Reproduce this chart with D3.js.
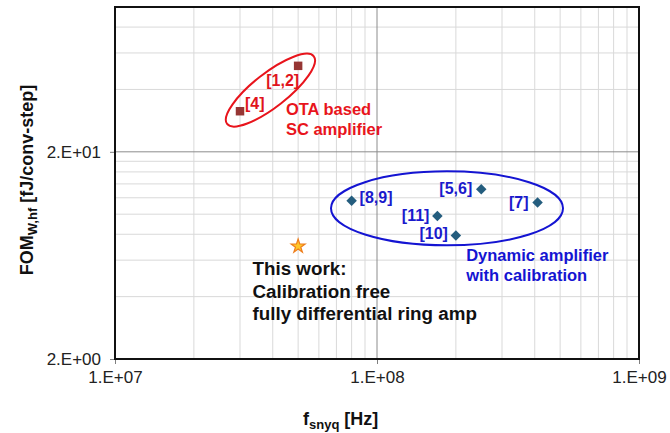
<!DOCTYPE html>
<html>
<head>
<meta charset="utf-8">
<script src="https://cdn.jsdelivr.net/npm/d3@7"></script>
<style>
  body { margin: 0; background: #fff; }
  text { font-family: "Liberation Sans", Arial, sans-serif; }
</style>
</head>
<body>
<div class="chart"></div>
<script>
// published designs: OTA based SC amplifiers
var otaRefs = ["[1,2]", "[4]"];
var otaFreq = [5.0e7, 3.0e7];
var otaFom = [52, 31.4];

// dynamic amplifiers with calibration
var dynRefs = ["[8,9]", "[5,6]", "[7]", "[11]", "[10]"];
var dynFreq = [8.0e7, 2.5e8, 4.1e8, 1.7e8, 2.0e8];
var dynFom = [11.6, 13.2, 11.4, 9.8, 7.9];

// this work
var thisFreq = [5.0e7];
var thisFom = [7.0];

var xTicks = [1e7, 1e8, 1e9];
var yTicks = [2, 20];
var xMinor = [2e7, 3e7, 4e7, 5e7, 6e7, 7e7, 8e7, 9e7, 2e8, 3e8, 4e8, 5e8, 6e8, 7e8, 8e8, 9e8];
var yMinor = [4, 6, 8, 10, 12, 14, 16, 18, 40, 60, 80];

var margin = { top: 7, right: 31, bottom: 74, left: 115 };
var width = 670 - margin.left - margin.right;
var height = 433 - margin.top - margin.bottom;

var svg = d3
  .select(".chart")
  .append("svg")
  .attr("width", width + margin.left + margin.right)
  .attr("height", height + margin.top + margin.bottom)
  .append("g")
  .attr("transform", `translate(${margin.left}, ${margin.top})`);

var xScale = d3.scaleLog().domain([1e7, 1e9]).range([0, width]);
var yScale = d3.scaleLog().domain([2, 100]).range([height, 0]);

function sci(v) {
  var e = Math.floor(Math.log10(v) + 1e-9);
  var m = Math.round(v / Math.pow(10, e));
  return m + ".E" + (e < 0 ? "-" : "+") + String(Math.abs(e)).padStart(2, "0");
}

// grid
svg.append("g").selectAll("line").data(xMinor).join("line")
  .attr("x1", (d) => xScale(d)).attr("x2", (d) => xScale(d))
  .attr("y1", 0).attr("y2", height)
  .attr("stroke", "#d9d9d9").attr("stroke-width", 1);
svg.append("g").selectAll("line").data(yMinor).join("line")
  .attr("y1", (d) => yScale(d)).attr("y2", (d) => yScale(d))
  .attr("x1", 0).attr("x2", width)
  .attr("stroke", "#d9d9d9").attr("stroke-width", 1);
svg.append("g").selectAll("line").data(xTicks.slice(1, -1)).join("line")
  .attr("x1", (d) => xScale(d)).attr("x2", (d) => xScale(d))
  .attr("y1", 0).attr("y2", height)
  .attr("stroke", "#8c8c8c").attr("stroke-width", 1);
svg.append("g").selectAll("line").data(yTicks.slice(1)).join("line")
  .attr("y1", (d) => yScale(d)).attr("y2", (d) => yScale(d))
  .attr("x1", 0).attr("x2", width)
  .attr("stroke", "#8c8c8c").attr("stroke-width", 1);

// axes
var xAxis = svg.append("g")
  .attr("transform", `translate(0, ${height})`)
  .call(d3.axisBottom(xScale).tickValues(xTicks).tickFormat(sci).tickSize(5).tickPadding(7));
var yAxis = svg.append("g")
  .call(d3.axisLeft(yScale).tickValues(yTicks).tickFormat(sci).tickSize(5).tickPadding(9));
[xAxis, yAxis].forEach(function (a) {
  a.select(".domain").remove();
  a.selectAll(".tick line").attr("stroke", "#7f7f7f");
  a.selectAll(".tick text")
    .attr("fill", "#222")
    .style("font-size", "17px")
    .style("font-family", '"Liberation Sans", Arial, sans-serif');
});

svg.append("rect")
  .attr("width", width).attr("height", height)
  .attr("fill", "none").attr("stroke", "#111").attr("stroke-width", 2);

// axis titles
var xt = svg.append("text")
  .attr("x", 188).attr("y", height + 66)
  .attr("font-size", 18).attr("font-weight", "bold").attr("fill", "#111");
xt.append("tspan").text("f");
xt.append("tspan").attr("font-size", 13).attr("dy", 4).text("snyq");
xt.append("tspan").attr("dy", -4).text(" [Hz]");

var yt = svg.append("text")
  .attr("transform", `translate(${-82}, ${height / 2 - 3}) rotate(-90)`)
  .attr("text-anchor", "middle")
  .attr("font-size", 18).attr("font-weight", "bold").attr("fill", "#111");
yt.append("tspan").text("FOM");
yt.append("tspan").attr("font-size", 13).attr("dy", 4).text("W,hf");
yt.append("tspan").attr("dy", -4).text(" [fJ/conv-step]");

// group ellipses (centre in data units)
var ellipses = [
  { cx: 3.92e7, cy: 39.7, rx: 55, ry: 17, angle: -38, color: "#e8141c" },
  { cx: 1.85e8, cy: 10.67, rx: 116, ry: 37, angle: 0, color: "#1414d2" },
];
svg.append("g").selectAll("ellipse").data(ellipses).join("ellipse")
  .attr("transform", (d) => `translate(${xScale(d.cx)}, ${yScale(d.cy)}) rotate(${d.angle})`)
  .attr("rx", (d) => d.rx).attr("ry", (d) => d.ry)
  .attr("fill", "none").attr("stroke", (d) => d.color).attr("stroke-width", 2);

// markers
var ota = otaRefs.map((r, i) => ({ ref: r, f: otaFreq[i], v: otaFom[i] }));
var dyn = dynRefs.map((r, i) => ({ ref: r, f: dynFreq[i], v: dynFom[i] }));
var me = thisFreq.map((f, i) => ({ f: f, v: thisFom[i] }));

svg.append("g").selectAll("path").data(ota).join("path")
  .attr("transform", (d) => `translate(${xScale(d.f)}, ${yScale(d.v)})`)
  .attr("d", d3.symbol(d3.symbolSquare, 72))
  .attr("fill", "#963634");
svg.append("g").selectAll("path").data(dyn).join("path")
  .attr("transform", (d) => `translate(${xScale(d.f)}, ${yScale(d.v)})`)
  .attr("d", d3.symbol(d3.symbolDiamond2, 70))
  .attr("fill", "#245d7e");
svg.append("g").selectAll("path").data(me).join("path")
  .attr("transform", (d) => `translate(${xScale(d.f)}, ${yScale(d.v)})`)
  .attr("d", d3.symbol(d3.symbolStar, 60))
  .attr("fill", "#ffc629").attr("stroke", "#ee7d1c").attr("stroke-width", 1.2);

// reference labels: offset from their marker
var labelPos = {
  "[1,2]": { dx: 1, dy: 20, anchor: "end" },
  "[4]": { dx: 5, dy: -2, anchor: "start" },
  "[8,9]": { dx: 8, dy: 2, anchor: "start" },
  "[5,6]": { dx: -9, dy: 5, anchor: "end" },
  "[7]": { dx: -9, dy: 6, anchor: "end" },
  "[11]": { dx: -8, dy: 5, anchor: "end" },
  "[10]": { dx: -8, dy: 4, anchor: "end" },
};
function refLabels(rows, color) {
  svg.append("g").selectAll("text").data(rows).join("text")
    .attr("x", (d) => xScale(d.f) + labelPos[d.ref].dx)
    .attr("y", (d) => yScale(d.v) + labelPos[d.ref].dy)
    .attr("text-anchor", (d) => labelPos[d.ref].anchor)
    .attr("font-size", 16).attr("font-weight", "bold")
    .attr("fill", color)
    .text((d) => d.ref);
}
refLabels(ota, "#e0141c");
refLabels(dyn, "#1a1acc");

// group captions (anchor in data units)
var captions = [
  { f: 4.49e7, v: 30.1, lines: ["OTA based", "SC amplifier"], color: "#e8141c", size: 16.5, lh: 20 },
  { f: 2.19e8, v: 5.94, lines: ["Dynamic amplifier", "with calibration"], color: "#1414d2", size: 16.5, lh: 20 },
  { f: 3.35e7, v: 5.08, lines: ["This work:", "Calibration free", "fully differential ring amp"], color: "#111", size: 18.8, lh: 22.5 },
];
captions.forEach(function (c) {
  var t = svg.append("text")
    .attr("x", xScale(c.f)).attr("y", yScale(c.v))
    .attr("font-size", c.size).attr("font-weight", "bold").attr("fill", c.color);
  c.lines.forEach(function (l, i) {
    t.append("tspan").attr("x", xScale(c.f)).attr("dy", i === 0 ? 0 : c.lh).text(l);
  });
});
</script>
</body>
</html>
